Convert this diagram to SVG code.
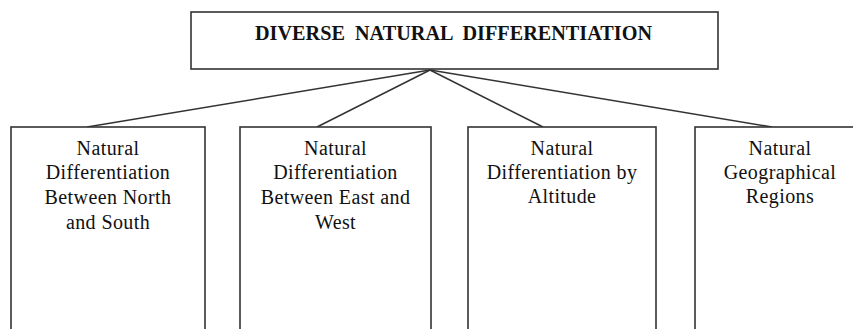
<svg xmlns="http://www.w3.org/2000/svg" width="853" height="329" viewBox="0 0 853 329">
<style>
.box{fill:#fff;stroke:#333;stroke-width:1.6}
.conn{stroke:#333;stroke-width:1.5;fill:none}
.t{font-family:"Liberation Serif","Times New Roman",serif;font-size:20px;fill:#111;text-anchor:middle;letter-spacing:0.4px}
.title{font-family:"Liberation Serif","Times New Roman",serif;font-size:20px;font-weight:bold;fill:#111;white-space:pre}
</style>
<rect width="853" height="329" fill="#fff"/>
<g id="connectors">
<line class="conn" x1="430" y1="70" x2="87" y2="127"/>
<line class="conn" x1="430" y1="70" x2="317" y2="127"/>
<line class="conn" x1="430" y1="70" x2="543" y2="127"/>
<line class="conn" x1="430" y1="70" x2="772" y2="127"/>
</g>
<g id="root">
<rect class="box" x="191" y="12" width="527" height="57"/>
<text class="title" x="255" y="40" textLength="397" lengthAdjust="spacingAndGlyphs" xml:space="preserve">DIVERSE  NATURAL  DIFFERENTIATION</text>
</g>
<g id="n1">
<rect class="box" x="11" y="127" width="194" height="220"/>
<text class="t" x="108" y="155">Natural</text>
<text class="t" x="108" y="179">Differentiation</text>
<text class="t" x="108" y="204">Between North</text>
<text class="t" x="108" y="229">and South</text>
</g>
<g id="n2">
<rect class="box" x="240" y="127" width="191" height="220"/>
<text class="t" x="335.5" y="155">Natural</text>
<text class="t" x="335.5" y="179">Differentiation</text>
<text class="t" x="335.5" y="204">Between East and</text>
<text class="t" x="335.5" y="229">West</text>
</g>
<g id="n3">
<rect class="box" x="468" y="127" width="188" height="220"/>
<text class="t" x="562" y="155">Natural</text>
<text class="t" x="562" y="179">Differentiation by</text>
<text class="t" x="562" y="203">Altitude</text>
</g>
<g id="n4">
<rect class="box" x="695" y="127" width="170" height="220"/>
<text class="t" x="780" y="155">Natural</text>
<text class="t" x="780" y="179">Geographical</text>
<text class="t" x="780" y="203">Regions</text>
</g>
</svg>
